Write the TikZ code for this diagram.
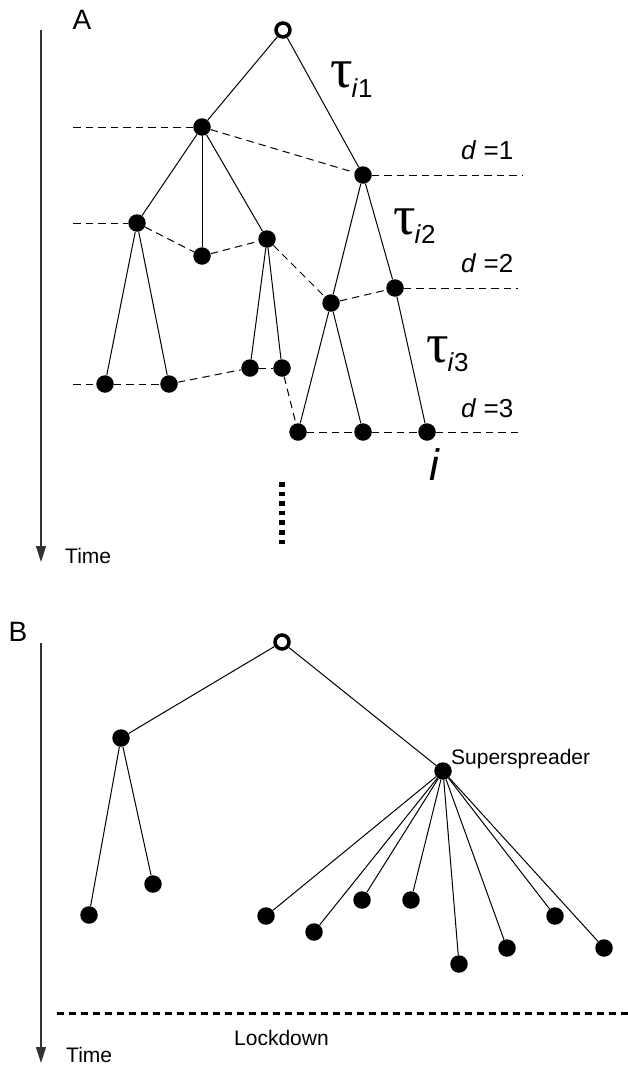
\documentclass[tikz,border=0pt]{standalone}
\usepackage{fontspec}
\setmainfont{Liberation Sans}
\newfontfamily\taufont{Liberation Serif}
\usetikzlibrary{arrows.meta}

\tikzset{
  host/.style={circle, fill=black, inner sep=0pt, minimum size=17.5pt},
  seed/.style={circle, draw=black, fill=white, line width=3.5pt, inner sep=0pt, minimum size=14pt},
  link/.style={line width=1pt},
  gen/.style={line width=1pt, dash pattern=on 7.5pt off 5pt},
  timeaxis/.style={line width=1.2pt, black!80, -{Triangle[length=16pt,width=10pt]}},
  lbl/.style={inner sep=0pt, font=\fontsize{21}{25}\selectfont},
  dlbl/.style={inner sep=0pt, anchor=base west, font=\fontsize{26}{30}\selectfont},
  panel/.style={inner sep=0pt, font=\fontsize{28}{32}\selectfont},
  taulbl/.style={inner sep=0pt, anchor=base west}
}
\newcommand{\taui}[1]{{\taufont\fontsize{56}{60}\selectfont τ}\kern-1pt\raisebox{-9.5pt}{\fontsize{26}{30}\selectfont\textit{i}#1}}

\begin{document}
\begin{tikzpicture}[x=1pt, y=-1pt]
\useasboundingbox (0,0) rectangle (628,1065);

% ---------- Panel A ----------
\node[panel] (labA) at (82,20) {A};
\coordinate (tA0) at (41,30);
\coordinate (tA1) at (41,562);
\draw[timeaxis] (tA0) -- (tA1);
\node[lbl, anchor=base west] (timeA) at (65,563) {Time};

\node[seed] (r0) at (283,30) {};
\node[host] (a)  at (202,127) {};
\node[host] (b)  at (363,175) {};
\node[host] (c1) at (137,223) {};
\node[host] (c2) at (202,256) {};
\node[host] (c3) at (267,239) {};
\node[host] (e)  at (331,303) {};
\node[host] (f)  at (395,288) {};
\node[host] (l1) at (105,384) {};
\node[host] (l2) at (169,384) {};
\node[host] (l3) at (250,368) {};
\node[host] (l4) at (282,368) {};
\node[host] (m1) at (298,432) {};
\node[host] (m2) at (363,432) {};
\node[host] (m3) at (427,432) {};

% transmission tree
\draw[link] (r0) -- (a);
\draw[link] (r0) -- (b);
\draw[link] (a) -- (c1);
\draw[link] (a) -- (c2);
\draw[link] (a) -- (c3);
\draw[link] (c1) -- (l1);
\draw[link] (c1) -- (l2);
\draw[link] (c3) -- (l3);
\draw[link] (c3) -- (l4);
\draw[link] (b) -- (e);
\draw[link] (b) -- (f);
\draw[link] (e) -- (m1);
\draw[link] (e) -- (m2);
\draw[link] (f) -- (m3);

% generation lines
\coordinate (g1w) at (73,127);
\coordinate (g1e) at (523,175);
\coordinate (g2w) at (73,223);
\coordinate (g2e) at (518,288);
\coordinate (g3w) at (73,384);
\coordinate (g3e) at (523,432);
\draw[gen] (g1w) -- (a);
\draw[gen] (a) -- (b);
\draw[gen] (b) -- (g1e);
\draw[gen] (g2w) -- (c1);
\draw[gen] (c1) -- (c2);
\draw[gen] (c2) -- (c3);
\draw[gen] (c3) -- (e);
\draw[gen] (e) -- (f);
\draw[gen] (f) -- (g2e);
\draw[gen] (g3w) -- (l1);
\draw[gen] (l1) -- (l2);
\draw[gen] (l2) -- (l3);
\draw[gen] (l3) -- (l4);
\draw[gen] (l4) -- (m1);
\draw[gen] (m1) -- (m2);
\draw[gen] (m2) -- (m3);
\draw[gen] (m3) -- (g3e);

\node[dlbl] (d1) at (461,159) {\textit{d} =1};
\node[dlbl] (d2) at (461,272) {\textit{d} =2};
\node[dlbl] (d3) at (461,417) {\textit{d} =3};

\node[taulbl] (tau1) at (330,88) {\taui{1}};
\node[taulbl] (tau2) at (393,234) {\taui{2}};
\node[taulbl] (tau3) at (426,362) {\taui{3}};

\node[inner sep=0pt, anchor=base, font=\fontsize{44}{48}\selectfont\itshape] (iname) at (434,480) {i};

% continuation
\coordinate (dots0) at (282,482);
\coordinate (dots1) at (282,544);
\draw[line width=6.5pt, dash pattern=on 4.5pt off 5.1pt] (dots0) -- (dots1);

% ---------- Panel B ----------
\node[panel] (labB) at (18,632) {B};
\coordinate (tB0) at (41,643);
\coordinate (tB1) at (41,1063);
\draw[timeaxis] (tB0) -- (tB1);
\node[lbl, anchor=base west] (timeB) at (66,1062) {Time};

\node[seed] (R) at (282,642) {};
\node[host] (P) at (121,738) {};
\node[host] (S) at (443,771) {};
\node[lbl, anchor=base west] (sslbl) at (451,764) {Superspreader};

\node[host] (p1) at (89,915) {};
\node[host] (p2) at (153,884) {};
\node[host] (s1) at (266,916) {};
\node[host] (s2) at (314,932) {};
\node[host] (s3) at (362,900) {};
\node[host] (s4) at (411,900) {};
\node[host] (s5) at (459,964) {};
\node[host] (s6) at (507,948) {};
\node[host] (s7) at (555,916) {};
\node[host] (s8) at (604,948) {};

\draw[link] (R) -- (P);
\draw[link] (R) -- (S);
\draw[link] (P) -- (p1);
\draw[link] (P) -- (p2);
\foreach \k in {s1,s2,s3,s4,s5,s6,s7,s8}
  \draw[link] (S) -- (\k);

\coordinate (lw) at (57,1013);
\coordinate (le) at (628,1013);
\draw[line width=3pt, dash pattern=on 7pt off 5pt] (lw) -- (le);
\node[lbl, anchor=base west] (lock) at (234,1045) {Lockdown};

\end{tikzpicture}
\end{document}
